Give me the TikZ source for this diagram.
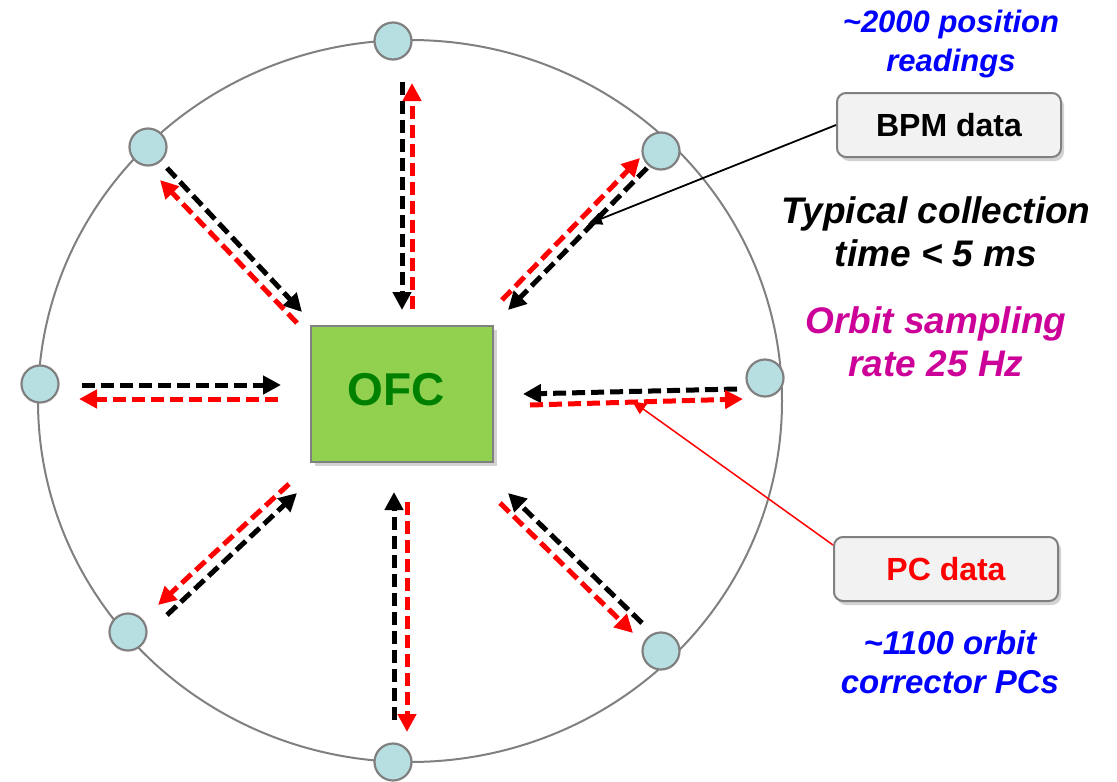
\documentclass[tikz,border=0pt]{standalone}
\usepackage{fontspec}
\setmainfont{Liberation Sans}
\usetikzlibrary{arrows.meta,shadows}
\definecolor{ofcgreen}{HTML}{92D050}
\definecolor{ofctext}{HTML}{008000}
\definecolor{bpmfill}{HTML}{B7DFE2}
\definecolor{boxfill}{HTML}{F2F2F2}
\definecolor{ringgray}{HTML}{808080}
\definecolor{magtext}{HTML}{CC0099}
\definecolor{bluetext}{HTML}{0000FF}
\tikzset{
  bpm/.style={circle, minimum size=37pt, inner sep=0pt, fill=bpmfill, draw=ringgray, line width=2.2pt},
  databox/.style={rounded corners=9pt, minimum width=224pt, minimum height=64pt, fill=boxfill, draw=ringgray, line width=2pt,
    font=\bfseries\fontsize{32}{36}\selectfont, drop shadow={shadow xshift=3pt, shadow yshift=-4pt, fill=black!35}},
  blk/.style={black, line width=5pt, dash pattern=on 13pt off 6pt, -{Triangle[length=18pt,width=18pt]}},
  rd/.style={red, line width=5pt, dash pattern=on 13pt off 6pt, -{Triangle[length=18pt,width=18pt]}},
  note/.style={align=center, font=\bfseries\itshape\fontsize{37}{43}\selectfont},
  smallnote/.style={align=center, font=\bfseries\itshape\fontsize{31}{39}\selectfont, text=bluetext},
}
\begin{document}
\begin{tikzpicture}[x=1pt,y=-1pt]
\useasboundingbox (0,0) rectangle (1117,782);
% ring
\draw[ringgray, line width=2pt] (410,401) ellipse [x radius=372pt, y radius=361pt];
% BPM / PC stations
\node[bpm] (s1) at (393,41) {};
\node[bpm] (s2) at (148,147) {};
\node[bpm] (s3) at (661,151) {};
\node[bpm] (s4) at (40,384) {};
\node[bpm] (s5) at (765,378) {};
\node[bpm] (s6) at (128,632) {};
\node[bpm] (s7) at (661,651) {};
\node[bpm] (s8) at (393,762) {};
% OFC
\node[minimum width=182pt, minimum height=136pt, fill=ofcgreen, draw=ringgray, line width=2.5pt,
  drop shadow={shadow xshift=4pt, shadow yshift=-4pt, fill=black!35}] (ofc) at (402,394) {};
\node[text=ofctext, font=\bfseries\fontsize{46}{50}\selectfont] (ofclabel) at (396,390) {OFC};
% arrow end points
\coordinate (t1a) at (402,82);  \coordinate (t1b) at (402,310);
\coordinate (t2a) at (412,309); \coordinate (t2b) at (412,83);
\coordinate (tl1a) at (167,168); \coordinate (tl1b) at (302,312);
\coordinate (tl2a) at (297,323); \coordinate (tl2b) at (160,180);
\coordinate (tr1a) at (502,300); \coordinate (tr1b) at (640,158);
\coordinate (tr2a) at (647,168); \coordinate (tr2b) at (508,310);
\coordinate (l1a) at (82,385);  \coordinate (l1b) at (281,385);
\coordinate (l2a) at (278,399); \coordinate (l2b) at (79,399);
\coordinate (r1a) at (737,389); \coordinate (r1b) at (523,394);
\coordinate (r2a) at (530,405); \coordinate (r2b) at (743,399);
\coordinate (bl1a) at (289,484); \coordinate (bl1b) at (158,605);
\coordinate (bl2a) at (167,615); \coordinate (bl2b) at (297,493);
\coordinate (b1a) at (394,720); \coordinate (b1b) at (394,492);
\coordinate (b2a) at (407,502); \coordinate (b2b) at (407,732);
\coordinate (br1a) at (642,623); \coordinate (br1b) at (508,493);
\coordinate (br2a) at (500,503); \coordinate (br2b) at (633,633);
% dashed arrows
\draw[blk] (t1a) -- (t1b);   \draw[rd] (t2a) -- (t2b);
\draw[blk] (tl1a) -- (tl1b); \draw[rd] (tl2a) -- (tl2b);
\draw[rd] (tr1a) -- (tr1b);  \draw[blk] (tr2a) -- (tr2b);
\draw[blk] (l1a) -- (l1b);   \draw[rd] (l2a) -- (l2b);
\draw[blk] (r1a) -- (r1b);   \draw[rd] (r2a) -- (r2b);
\draw[rd] (bl1a) -- (bl1b);  \draw[blk] (bl2a) -- (bl2b);
\draw[blk] (b1a) -- (b1b);   \draw[rd] (b2a) -- (b2b);
\draw[blk] (br1a) -- (br1b); \draw[rd] (br2a) -- (br2b);
% data boxes
\node[databox, text=black] (bpmbox) at (949,125) {BPM data};
\node[databox, text=red] (pcbox) at (946,569) {PC data};
\coordinate (bpmtip) at (588,224);
\coordinate (pctip) at (632,401);
\draw[black, line width=1.8pt, -{Triangle[length=14pt,width=12pt]}] (bpmbox.west) -- (bpmtip);
\draw[red, line width=1.5pt, -{Triangle[length=14pt,width=12pt]}] (pcbox.west) ++(0,-24) -- (pctip);
% notes
\node[smallnote] (n1) at (951,44) {\textasciitilde 2000 position\\readings};
\node[note, text=black] (n2) at (936,232) {Typical collection\\time < 5 ms};
\node[note, text=magtext] (n3) at (936,342) {Orbit sampling\\rate 25 Hz};
\node[smallnote, font=\bfseries\itshape\fontsize{33}{39}\selectfont] (n4) at (950,662) {\textasciitilde 1100 orbit\\corrector PCs};
\end{tikzpicture}
\end{document}
